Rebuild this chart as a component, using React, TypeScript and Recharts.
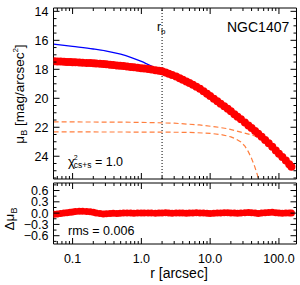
import React from "react";
import { ComposedChart, Line, Scatter, XAxis, YAxis, ReferenceLine } from "recharts";

const FONT = "'Liberation Sans', Arial, Helvetica, sans-serif";

// observed profile (arcsec, mag/arcsec^2) and residuals
const radii = [
  0.054, 0.06, 0.067, 0.075, 0.083, 0.092, 0.1, 0.11, 0.125, 0.14, 0.16, 0.18, 0.2, 0.22, 0.25,
  0.28, 0.31, 0.35, 0.39, 0.44, 0.49, 0.55, 0.62, 0.7, 0.78, 0.88, 0.99, 1.1, 1.25, 1.4, 1.6, 1.8,
  2.0, 2.25, 2.5, 2.8, 3.2, 3.6, 4.0, 4.5, 5.0, 5.6, 6.3, 7.1, 8.0, 9.0, 10, 11.3, 12.7, 14.2, 16,
  18, 20, 22.5, 25, 28, 32, 36, 40, 45, 50, 56, 63, 71, 80, 90, 100, 112, 126, 141, 152,
];
const muObs = [
  17.45, 17.46, 17.47, 17.48, 17.49, 17.5, 17.51, 17.52, 17.53, 17.54, 17.56, 17.57, 17.59, 17.6,
  17.62, 17.64, 17.66, 17.68, 17.7, 17.73, 17.76, 17.78, 17.81, 17.84, 17.86, 17.89, 17.92, 17.95,
  17.98, 18.02, 18.06, 18.1, 18.14, 18.22, 18.3, 18.4, 18.5, 18.62, 18.72, 18.84, 18.95, 19.07,
  19.2, 19.35, 19.52, 19.69, 19.85, 20.03, 20.2, 20.37, 20.55, 20.73, 20.9, 21.1, 21.27, 21.45,
  21.67, 21.87, 22.05, 22.25, 22.44, 22.65, 22.88, 23.1, 23.35, 23.6, 23.82, 24.05, 24.3, 24.55,
  24.72,
];
const dMu = [
  -0.03, -0.02, -0.01, 0.0, 0.01, 0.02, 0.03, 0.04, 0.05, 0.05, 0.045, 0.035, 0.02, 0.005, -0.01,
  -0.02, -0.015, -0.01, -0.005, -0.01, -0.005, 0.0, 0.005, 0.0, -0.005, 0.0, 0.005, 0.0, 0.005,
  0.0, -0.005, 0.0, 0.005, 0.01, 0.0, -0.005, 0.0, 0.005, 0.0, -0.005, 0.0, 0.005, 0.01, 0.005,
  0.0, -0.005, -0.01, -0.005, 0.0, 0.005, 0.01, 0.01, 0.005, 0.0, -0.005, 0.0, 0.01, 0.015, 0.01,
  0.0, -0.01, 0.0, 0.01, 0.015, 0.02, 0.01, 0.0, -0.005, 0.0, 0.005, 0.0,
];

// core-Sersic + Sersic fit
const modelR = [0.053, 0.1, 0.2, 0.3, 0.5, 0.7, 1.0, 1.4, 2.0, 2.8, 4.0, 5.6, 8.0, 11.3, 16, 22.5, 32, 45, 63, 90, 126, 152];
const modelMu = [16.26, 16.42, 16.6, 16.73, 16.96, 17.17, 17.45, 17.77, 18.14, 18.4, 18.72, 19.07, 19.52, 20.03, 20.55, 21.1, 21.67, 22.25, 22.88, 23.6, 24.3, 24.72];

const outerR = [0.053, 0.3, 1, 3, 7, 12, 18, 24, 30, 38, 46, 56, 70, 90, 115, 152];
const outerMu = [21.63, 21.64, 21.66, 21.72, 21.84, 21.97, 22.1, 22.25, 22.38, 22.5, 22.62, 22.85, 23.2, 23.68, 24.17, 24.8];

const innerR = [0.053, 1, 5, 10, 15, 20, 24, 28, 32, 36, 40, 44, 48, 52, 56];
const innerMu = [22.32, 22.33, 22.35, 22.42, 22.52, 22.66, 22.82, 23.02, 23.3, 23.7, 24.15, 24.65, 25.2, 25.8, 26.4];

const rBreak = 2.0;

const xMajor = [0.1, 1, 10, 100];
const xMinor = [0.06, 0.07, 0.08, 0.09, 0.2, 0.3, 0.4, 0.5, 0.6, 0.7, 0.8, 0.9, 2, 3, 4, 5, 6, 7, 8, 9, 20, 30, 40, 50, 60, 70, 80, 90];
const muMajor = [14, 16, 18, 20, 22, 24];
const muMinor = [14.5, 15, 15.5, 16.5, 17, 17.5, 18.5, 19, 19.5, 20.5, 21, 21.5, 22.5, 23, 23.5, 24.5, 25, 25.5];
const dMajor = [-0.6, -0.3, 0, 0.3, 0.6];
const dMinor = [-0.75, -0.45, -0.15, 0.15, 0.45, 0.75];

const xDomain = [0.0528, 180];
const muDomain = [13.77, 25.57];
const dDomain = [-0.82, 0.8];

const obs = radii.map((r, i) => ({ r, mu: muObs[i] }));
const resid = radii.map((r, i) => ({ r, d: dMu[i] }));
const model = modelR.map((r, i) => ({ r, mu: modelMu[i] }));
const outer = outerR.map((r, i) => ({ r, mu: outerMu[i] }));
const inner = innerR.map((r, i) => ({ r, mu: innerMu[i] }));

const fmtX = (v: number) => v.toFixed(1);
const fmtMu = (v: number) => String(v);
const fmtD = (v: number) => (v < 0 ? "\u2212" + Math.abs(v).toFixed(1) : v.toFixed(1));

// inward ticks, IDL style; label only when a formatter is given
function makeTick(side: "bottom" | "top" | "left" | "right", major: number[], fmt?: (v: number) => string) {
  return (p: any) => {
    const v = p.payload.value;
    const isMajor = major.some((m) => Math.abs(m - v) < 1e-9);
    const len = isMajor ? 6 : 3;
    const x = p.x;
    const y = p.y;
    let line;
    if (side === "bottom") line = <line x1={x} y1={y} x2={x} y2={y - len} stroke="#000" />;
    else if (side === "top") line = <line x1={x} y1={y} x2={x} y2={y + len} stroke="#000" />;
    else if (side === "left") line = <line x1={x} y1={y} x2={x + len} y2={y} stroke="#000" />;
    else line = <line x1={x} y1={y} x2={x - len} y2={y} stroke="#000" />;
    let label = null;
    if (fmt && isMajor) {
      if (side === "bottom")
        label = <text x={x} y={y + 19} textAnchor="middle" fontSize={12.5} fontFamily={FONT} fill="#000">{fmt(v)}</text>;
      else if (side === "left")
        label = <text x={x - 5} y={y + 4.5} textAnchor="end" fontSize={12.5} fontFamily={FONT} fill="#000">{fmt(v)}</text>;
    }
    return <g>{line}{label}</g>;
  };
}

function xAxes(labels: boolean) {
  const ticks = [...xMajor, ...xMinor].sort((a, b) => a - b);
  const common = { type: "number" as const, scale: "log" as const, domain: xDomain, allowDataOverflow: true, height: 1, interval: 0 as const, dataKey: "r", ticks, tickSize: 0, tickMargin: 0, tickLine: false, stroke: "#000" };
  return [
    <XAxis key="xb" xAxisId="xb" {...common} tick={makeTick("bottom", xMajor, labels ? fmtX : undefined)} />,
    <XAxis key="xt" xAxisId="xt" orientation="top" {...common} tick={makeTick("top", xMajor)} />,
  ];
}

function yAxes(domain: number[], major: number[], minor: number[], key: string, fmt: (v: number) => string, reversed: boolean) {
  const ticks = [...major, ...minor].sort((a, b) => a - b);
  const common = { type: "number" as const, domain, allowDataOverflow: true, width: 1, interval: 0 as const, reversed, dataKey: key, ticks, tickSize: 0, tickMargin: 0, tickLine: false, stroke: "#000" };
  return [
    <YAxis key="yl" yAxisId="yl" {...common} tick={makeTick("left", major, fmt)} />,
    <YAxis key="yr" yAxisId="yr" orientation="right" {...common} tick={makeTick("right", major)} />,
  ];
}

const redDot = (size: number) => (p: any) => <circle cx={p.cx} cy={p.cy} r={size} fill="#ff0000" />;

export default function App() {
  return (
    <div style={{ position: "absolute", left: 0, top: 0, width: 300, height: 285, background: "#fff" }}>
      <div style={{ position: "absolute", left: 0, top: 0 }}>
        <ComposedChart width={300} height={190} margin={{ top: 7, right: 2.5, bottom: 10, left: 52.5 }}>
          {xAxes(false)}
          {yAxes(muDomain, muMajor, muMinor, "mu", fmtMu, true)}
          <ReferenceLine xAxisId="xb" yAxisId="yl" x={rBreak} stroke="#000" strokeDasharray="1 2" />
          <Line xAxisId="xb" yAxisId="yl" data={outer} dataKey="mu" stroke="#ff7f3f" strokeWidth={1.2}
            strokeDasharray="5 3" dot={false} isAnimationActive={false} />
          <Line xAxisId="xb" yAxisId="yl" data={inner} dataKey="mu" stroke="#ff7f3f" strokeWidth={1.2}
            strokeDasharray="5 3" dot={false} isAnimationActive={false} />
          <Scatter xAxisId="xb" yAxisId="yl" data={obs} dataKey="mu" shape={redDot(4)} isAnimationActive={false} />
          <Line xAxisId="xb" yAxisId="yl" data={model} dataKey="mu" stroke="#0000ff" strokeWidth={1.3}
            dot={false} isAnimationActive={false} type="monotone" />
        </ComposedChart>
      </div>
      <div style={{ position: "absolute", left: 0, top: 175 }}>
        <ComposedChart width={300} height={110} margin={{ top: 7, right: 2.5, bottom: 40, left: 52.5 }}>
          {xAxes(true)}
          {yAxes(dDomain, dMajor, dMinor, "d", fmtD, false)}
          <Scatter xAxisId="xb" yAxisId="yl" data={resid} dataKey="d" shape={redDot(3.5)} isAnimationActive={false} />
        </ComposedChart>
      </div>
      <svg width={300} height={285} style={{ position: "absolute", left: 0, top: 0, pointerEvents: "none" }}
        fontFamily={FONT} fill="#000">
        <text x={227} y={32} fontSize={14}>NGC1407</text>
        <text x={157} y={31} fontSize={12}>r<tspan fontSize={8} dy={3}>b</tspan></text>
        <text x={68} y={166} fontSize={13}>
          {"\u03c7"}
          <tspan fontSize={7} dx={-1} dy={-6}>2</tspan>
          <tspan fontSize={8.5} dx={-4} dy={8}>cs+s</tspan>
          <tspan fontSize={12.5} dy={-2}>{"  =  1.0"}</tspan>
        </text>
        <text x={68} y={235} fontSize={12.5}>{"rms  =  0.006"}</text>
        <text x={179} y={278} fontSize={14} textAnchor="middle">{"r  [arcsec]"}</text>
        <text transform="translate(24 94) rotate(-90)" fontSize={13.5} textAnchor="middle">
          {"\u03bc"}<tspan fontSize={9} dy={3}>B</tspan>
          <tspan dy={-3}>{" [mag/arcsec"}</tspan>
          <tspan fontSize={8} dy={-6}>2</tspan>
          <tspan dy={6}>]</tspan>
        </text>
        <text transform="translate(14 219) rotate(-90)" fontSize={13.5} textAnchor="middle">
          {"\u0394\u03bc"}<tspan fontSize={9} dy={3}>B</tspan>
        </text>
      </svg>
    </div>
  );
}
